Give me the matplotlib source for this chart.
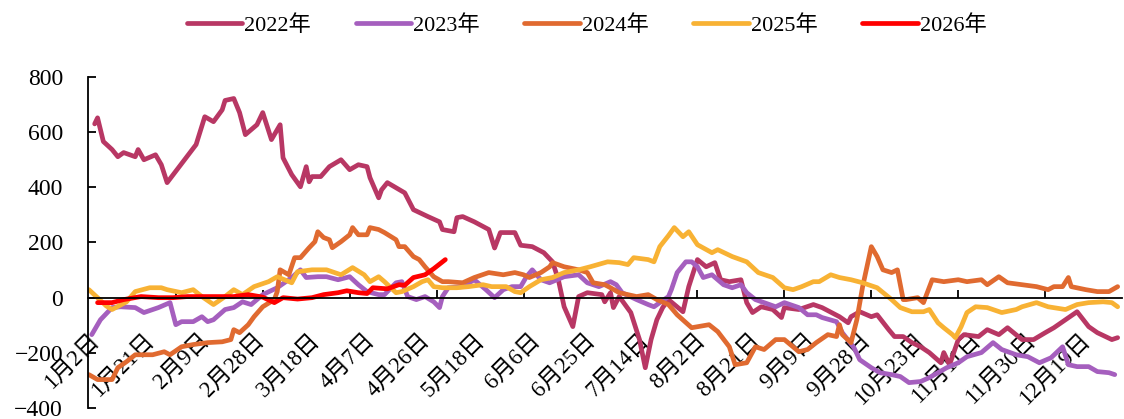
import numpy as np
import matplotlib.pyplot as plt

plt.rcParams['font.family'] = ['Liberation Serif', 'Noto Sans CJK SC']

# ---------------------------------------------------------------------------
# Data (category index along the trading-day axis, value)
# ---------------------------------------------------------------------------
tick_labels = ["1月2日", "1月21日", "2月9日", "2月28日", "3月18日", "4月7日",
               "4月26日", "5月18日", "6月6日", "6月25日", "7月14日", "8月2日",
               "8月21日", "9月9日", "9月28日", "10月23日", "11月11日",
               "11月30日", "12月19日"]
label_step = 19
mark_step = 30
n_cat = 356

x22 = [2, 3, 5, 8, 10, 12, 16, 17, 19, 23, 25, 27, 37, 40, 43, 46, 47, 50, 52, 54,
       58, 60, 63, 66, 67, 70, 73, 75, 76, 77, 80, 83, 87, 90, 93, 96, 97, 100, 101,
       103, 109, 112, 117, 121, 122, 126, 127, 129, 133, 138, 140, 142, 147, 149, 153,
       157, 160, 162, 164, 167, 169, 172, 177, 178, 180, 181, 183, 187, 190, 192, 194,
       196, 198, 200, 205, 207, 210, 213, 216, 218, 221, 225, 227, 229, 232, 236, 239,
       240, 245, 250, 253, 259, 262, 263, 266, 270, 272, 276, 278, 281, 284, 287, 290,
       294, 295, 297, 300, 302, 307, 310, 314, 317, 322, 326, 330, 333, 337, 341, 345,
       348, 353, 355]
y22 = [630, 652, 566, 537, 511, 526, 511, 537, 500, 518, 482, 417, 555, 656, 638, 681,
       715, 722, 671, 591, 627, 671, 573, 627, 507, 446, 402, 475, 420, 439, 439, 475,
       500, 464, 482, 475, 435, 362, 391, 417, 380, 319, 294, 275, 247, 239, 290, 294,
       275, 247, 180, 236, 236, 190, 185, 163, 130, 65, -33, -105, 4, 18, 11, -15, 18,
       -36, 4, -54, -152, -254, -152, -80, -36, -7, -51, 40, 138, 112, 127, 65, 58, 65,
       -18, -54, -33, -43, -72, -36, -43, -25, -36, -69, -91, -69, -51, -69, -62, -116,
       -141, -141, -163, -178, -199, -236, -199, -243, -152, -134, -141, -116, -134,
       -109, -152, -152, -127, -109, -80, -51, -105, -127, -152, -145]

x23 = [1, 4, 8, 11, 16, 19, 24, 28, 30, 32, 36, 39, 41, 43, 47, 50, 53, 56, 60, 65,
       70, 73, 75, 79, 82, 86, 90, 93, 96, 100, 102, 106, 108, 110, 113, 116, 119, 121,
       122, 124, 129, 133, 137, 140, 143, 146, 149, 151, 153, 156, 159, 164, 169, 172,
       176, 180, 182, 184, 189, 193, 195, 197, 200, 201, 203, 206, 208, 210, 212, 215,
       219, 222, 225, 227, 230, 233, 237, 240, 245, 248, 251, 253, 258, 260, 264, 266,
       270, 273, 277, 280, 283, 287, 290, 293, 296, 300, 303, 308, 312, 315, 320, 324,
       328, 332, 336, 338, 341, 345, 348, 352, 354]
y23 = [-134, -80, -36, -33, -36, -54, -36, -18, -98, -87, -87, -69, -87, -80, -43, -36,
       -15, -25, 11, 36, 73, 101, 73, 76, 76, 65, 76, 47, 22, 11, 11, 54, 58, 4, -7, 4,
       -15, -36, 4, 36, 40, 65, 29, 0, 29, 40, 40, 76, 101, 65, 54, 76, 83, 54, 40, 58,
       47, 18, -7, -25, -33, -18, 4, 29, 91, 130, 130, 112, 73, 83, 47, 36, 47, 18, -7,
       -18, -33, -18, -36, -62, -62, -72, -87, -127, -181, -225, -254, -272, -279, -286,
       -308, -304, -290, -272, -254, -236, -214, -199, -163, -188, -207, -214, -236,
       -218, -178, -243, -250, -250, -268, -272, -279]

x24 = [0, 3, 8, 10, 13, 16, 19, 22, 26, 28, 32, 36, 41, 46, 49, 50, 52, 55, 57, 60,
       64, 65, 66, 69, 71, 73, 76, 78, 79, 81, 83, 84, 87, 90, 91, 93, 96, 97, 100, 102,
       106, 107, 109, 112, 114, 116, 119, 122, 124, 129, 133, 138, 143, 147, 150, 152,
       156, 159, 160, 164, 169, 172, 174, 178, 180, 183, 189, 193, 196, 200, 203, 208,
       214, 217, 221, 223, 227, 230, 233, 237, 240, 245, 248, 251, 255, 258, 259, 260,
       263, 265, 267, 270, 272, 274, 277, 279, 281, 282, 286, 288, 291, 295, 300, 303,
       308, 310, 314, 317, 322, 327, 331, 333, 336, 338, 339, 344, 348, 352, 355]
y24 = [-279, -297, -297, -254, -232, -207, -207, -207, -196, -207, -178, -170, -163,
       -160, -152, -116, -127, -98, -69, -33, -7, 22, 101, 83, 145, 145, 181, 203, 239,
       218, 210, 181, 203, 228, 254, 228, 228, 254, 247, 236, 210, 185, 185, 149, 138,
       112, 76, 58, 58, 54, 73, 91, 83, 91, 83, 73, 91, 112, 127, 112, 101, 91, 54, 47,
       36, 18, 4, 11, -7, -25, -62, -109, -98, -123, -178, -243, -236, -178, -188, -152,
       -152, -196, -188, -163, -134, -141, -98, -134, -163, -80, 40, 185, 149, 101, 91,
       101, -7, -7, 0, -18, 65, 58, 65, 58, 65, 47, 76, 54, 47, 40, 29, 40, 40, 73, 40,
       29, 22, 22, 40]

x25 = [0, 3, 6, 8, 13, 16, 21, 25, 27, 32, 36, 39, 43, 47, 50, 53, 57, 62, 65, 70,
       72, 77, 82, 87, 91, 95, 97, 100, 102, 106, 108, 112, 115, 117, 119, 122, 127,
       131, 136, 139, 144, 147, 149, 152, 156, 160, 164, 169, 173, 179, 183, 186, 188,
       193, 195, 197, 200, 202, 205, 207, 210, 215, 217, 222, 227, 231, 236, 240, 243,
       246, 250, 252, 256, 259, 263, 267, 272, 277, 280, 284, 288, 290, 293, 295, 298,
       299, 301, 303, 306, 310, 315, 320, 322, 327, 331, 337, 341, 345, 350, 353, 355]
y25 = [29, 0, -30, -43, -15, 22, 36, 36, 29, 18, 29, 4, -25, 4, 29, 11, 40, 58, 76, 54,
       94, 101, 101, 83, 109, 83, 58, 76, 58, 18, 22, 40, 58, 65, 40, 36, 36, 40, 47, 40,
       40, 22, 18, 40, 65, 73, 91, 101, 112, 130, 127, 120, 145, 138, 130, 185, 225, 254,
       221, 239, 192, 163, 174, 149, 130, 91, 73, 36, 29, 40, 58, 58, 83, 73, 65, 54, 36,
       -7, -36, -51, -51, -43, -91, -109, -134, -145, -105, -54, -33, -36, -54, -43, -33,
       -18, -33, -43, -25, -18, -15, -18, -33]

x26 = [3, 8, 12, 18, 24, 29, 34, 42, 50, 55, 60, 64, 67, 72, 77, 81, 86, 89, 93, 96,
       98, 103, 107, 109, 112, 116, 119, 123]
y26 = [-18, -18, -7, 4, 0, 0, 4, 4, 4, 11, 2, -18, 0, -5, 0, 11, 18, 25, 18, 15, 36,
       32, 47, 45, 73, 83, 105, 138]

series = [
    ("2022年", x22, y22, "#B83764"),
    ("2023年", x23, y23, "#A55FBE"),
    ("2024年", x24, y24, "#E06A30"),
    ("2025年", x25, y25, "#F8B234"),
    ("2026年", x26, y26, "#FF0000"),
]

# ---------------------------------------------------------------------------
# Plot
# ---------------------------------------------------------------------------
fig = plt.figure(figsize=(11.24, 4.19), dpi=100)
ax = fig.add_axes([88 / 1124, 11 / 419, 1034 / 1124, 331 / 419])

for name, xs, ys, color in series:
    ax.plot(xs, ys, color=color, lw=3.4, label=name,
            solid_joinstyle='round', solid_capstyle='round')

ax.set_xlim(-0.3, 356.5)
ax.set_ylim(-400, 800)

ax.spines['top'].set_visible(False)
ax.spines['right'].set_visible(False)
ax.spines['bottom'].set_position(('data', 0))
ax.spines['bottom'].set_linewidth(1.3)
ax.spines['left'].set_linewidth(1.3)

ax.set_yticks(np.arange(-400, 801, 200))
ax.tick_params(axis='y', direction='in', length=6, width=1.3, pad=18, labelsize=17)

ax.set_xticks(np.arange(len(tick_labels)) * label_step)
ax.set_xticklabels(tick_labels, rotation=45, ha='right', va='top',
                   rotation_mode='anchor')
ax.tick_params(axis='x', which='major', length=0, pad=23, labelsize=16.5)
ax.set_xticks(np.arange(0, n_cat, mark_step), minor=True)
ax.tick_params(axis='x', which='minor', direction='in', length=6, width=1.3)

fig.legend(ncol=5, loc='upper center', bbox_to_anchor=(0.522, 1.012),
           frameon=False, fontsize=16, handlelength=2.5, handletextpad=0.1,
           columnspacing=2.0)

fig.savefig('out.png', dpi=100)
